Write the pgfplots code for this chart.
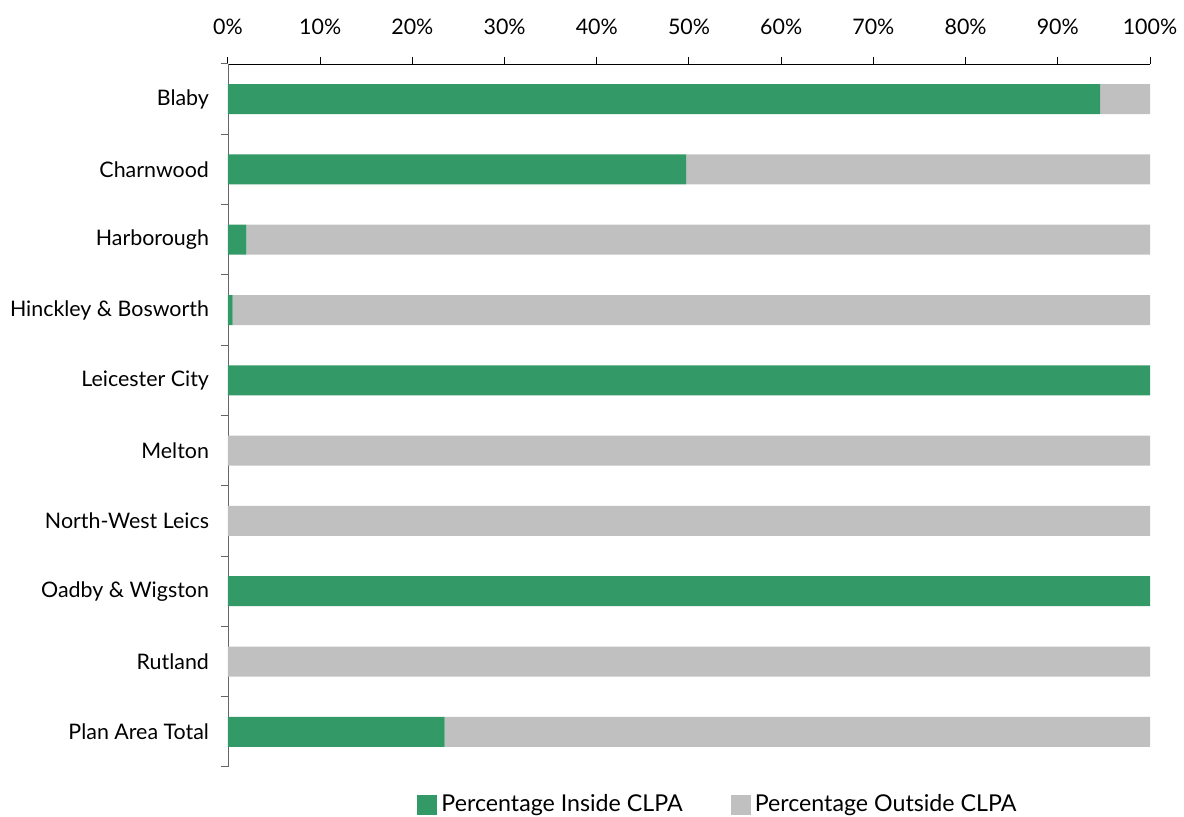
\documentclass[border=0pt]{standalone}
\usepackage{pgfplots}
\pgfplotsset{compat=1.18}
\usepackage{fontspec}
\setmainfont{Lato}
\definecolor{inside}{RGB}{51,153,102}
\definecolor{outside}{RGB}{192,192,192}
\begin{document}
\begin{tikzpicture}[x=0.5pt,y=0.5pt]
\begin{axis}[name=ax,
    scale only axis, width=461pt, height=351.5pt,
    xbar stacked, bar width=15pt,
    xmin=0, xmax=100, ymin=-0.5, ymax=9.5,
    axis x line=top, axis y line=left,
    x axis line style={-, black},
    y axis line style={-, black!60},
    xtick={0,10,...,100},
    xticklabel={\pgfmathprintnumber{\tick}\%},
    /pgf/number format/assume math mode=true,
    x tick style={black, line width=0.5pt},
    xtick align=outside, ytick align=outside,
    major tick length=3.5pt, minor tick length=3.5pt,
    ytick={0,...,9},
    yticklabels={Plan Area Total, Rutland, Oadby \& Wigston, North-West Leics, Melton, Leicester City, Hinckley \& Bosworth, Harborough, Charnwood, Blaby},
    y tick style={draw=none},
    minor ytick={-0.5,0.5,...,9.5},
    minor y tick style={draw=black!60, line width=0.5pt},
    tick label style={font=\fontsize{10.7}{12}\selectfont},
    x tick label style={yshift=7.5pt},
    y tick label style={xshift=-2.5pt},
    legend columns=2,
    legend style={draw=none, at={(rel axis cs:0.5325,-0.054)}, anchor=center,
        font=\fontsize{11.6}{14}\selectfont,
        /tikz/every even column/.append style={column sep=22pt}},
    legend image code/.code={\fill[#1] (0pt,-5pt) rectangle (10pt,5pt);},
]
\addplot[fill=inside, draw=none] coordinates {
    (94.6,9) (49.7,8) (2.0,7) (0.5,6) (100,5) (0,4) (0,3) (100,2) (0,1) (23.5,0)};
\addlegendentry{Percentage Inside CLPA}
\addplot[fill=outside, draw=none] coordinates {
    (5.4,9) (50.3,8) (98.0,7) (99.5,6) (0,5) (100,4) (100,3) (0,2) (100,1) (76.5,0)};
\addlegendentry{Percentage Outside CLPA}
\end{axis}
\pgfresetboundingbox
\path (ax.south west) ++(-114pt,-25pt) rectangle ++(592pt,408.5pt);
\end{tikzpicture}
\end{document}
